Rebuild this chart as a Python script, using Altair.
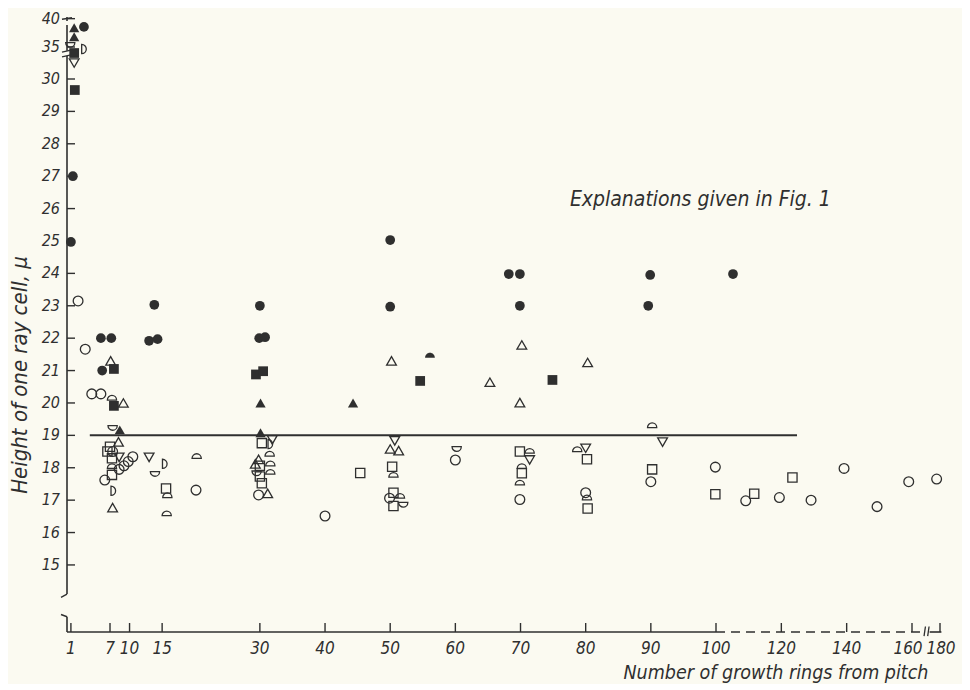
import altair as alt
import pandas as pd

INK = "#2f2f2f"
PAPER = "#fbfaf1"
FONT = "DejaVu Sans Condensed, Liberation Sans Narrow, Roboto Condensed, DejaVu Sans, sans-serif"

# ---------------- data ----------------
# filled circles
fc_x = [3.0, 1.3, 1.0, 5.6, 7.2, 13.0, 14.3, 5.8, 13.8, 30.0, 29.9, 30.8, 50.0, 50.0, 68.2, 69.9, 69.9, 89.9, 89.6, 105.2]
fc_y = [38.55, 27.0, 24.97, 22.0, 22.0, 21.92, 21.97, 21.0, 23.03, 23.0, 22.0, 22.03, 25.03, 22.97, 23.98, 23.98, 23.0, 23.95, 23.0, 23.98]
# open circles
oc_x = [2.1, 3.2, 4.2, 5.6, 7.4, 10.5, 9.8, 9.15, 8.4, 6.2, 20.2, 29.8, 40.0, 49.9, 60.0, 69.9, 80.0, 90.0, 99.9,
        109.1, 119.4, 129.1, 139.2, 149.3, 159.0, 177.6]
oc_y = [23.15, 21.66, 20.28, 20.28, 18.5, 18.34, 18.19, 18.06, 17.95, 17.62, 17.31, 17.16, 16.51, 17.06, 18.24, 17.02, 17.23, 17.57, 18.02,
        16.98, 17.08, 17.0, 17.98, 16.8, 17.57, 17.65]
# filled squares
fs_x = [1.5, 1.6, 7.6, 7.6, 29.4, 30.5, 54.6, 74.9]
fs_y = [34.06, 29.66, 21.05, 19.91, 20.88, 20.98, 20.68, 20.71]
# open squares
os_x = [7.0, 6.6, 7.3, 7.3, 15.6, 30.3, 30.0, 30.0, 30.3, 45.4, 50.3, 50.5, 50.5, 69.9, 70.2, 80.2, 80.3, 90.2, 99.9, 111.7, 123.4]
os_y = [18.65, 18.5, 18.29, 17.78, 17.36, 18.76, 18.06, 17.73, 17.52, 17.84, 18.03, 17.23, 16.82, 18.5, 17.83, 18.26, 16.74, 17.95, 17.18, 17.2, 17.7]
# filled triangles
ft_x = [1.5, 1.5, 8.5, 30.1, 30.1, 44.3]
ft_y = [38.4, 36.8, 19.17, 20.0, 19.08, 20.0]
# open triangles (point up)
ot_x = [7.1, 9.05, 8.3, 7.4, 29.8, 29.3, 31.2, 50.2, 50.0, 51.3, 65.3, 70.2, 69.9, 80.3]
ot_y = [21.3, 20.0, 18.8, 16.77, 18.26, 18.12, 17.21, 21.3, 18.58, 18.53, 20.64, 21.79, 20.01, 21.25]
# open triangles (point down)
od_x = [1.5, 8.4, 13.0, 31.9, 50.7, 71.4, 80.0, 91.8]
od_y = [32.5, 18.32, 18.32, 18.86, 18.83, 18.24, 18.6, 18.79]
# open half circles, flat side down
hu_x = [7.3, 7.3, 15.8, 15.7, 20.3, 31.5, 31.6, 31.6, 50.5, 51.5, 71.4, 70.2, 69.9, 78.7, 80.2, 90.2]
hu_y = [20.14, 18.03, 17.13, 16.57, 18.34, 18.41, 18.11, 17.85, 17.76, 17.11, 18.5, 18.03, 17.52, 18.55, 17.06, 19.29]
# open half circles, flat side up
hd_x = [0.9, 7.4, 13.9, 29.5, 52.0, 60.2]
hd_y = [35.5, 19.25, 17.83, 17.85, 16.88, 18.6]
# open half circles, flat side left
hr_x = [2.9, 7.4, 15.3, 31.5]
hr_y = [34.69, 17.29, 18.12, 18.73]
# filled half circle
fh_x = [56.1]
fh_y = [21.45]

# axis ticks, labels and reference line
y_ticks = [15, 16, 17, 18, 19, 20, 21, 22, 23, 24, 25, 26, 27, 28, 29, 30, 35, 40]
x_ticks = [1, 7, 10, 15, 30, 40, 50, 60, 70, 80, 90, 100, 120, 140, 160, 180]
x_labels_main = [1, 7, 10, 15, 30, 40, 50, 60, 70, 80, 90, 100, 120, 140]
x_label_160 = [160]
x_label_180 = [180]
y_title = "Height of one ray cell, μ"
x_title = "Number of growth rings from pitch"
ref_y = 19
ref_x0, ref_x1 = 3.9, 124.8
note_text = "Explanations given in Fig. 1"
note_x, note_y = 97.6, 26.27

# ---------------- layout ----------------
TOP = 6          # plot top sits at page y = 8 + TOP
H = 618          # x axis line (y = 12.93) sits at the plot bottom
x_scale = alt.Scale(domain=[0.4, 100, 160, 180], range=[0, 649, 845, 873], zero=False, nice=False)
y_scale = alt.Scale(domain=[12.93, 30, 35, 41], range=[H, 65, 33, -1], zero=False, nice=False)

DOME = "M -1 0.35 A 1 1 0 0 1 1 0.35 Z"
CUP = "M -1 -0.35 A 1 1 0 0 0 1 -0.35 Z"
DSH = "M -0.35 -1 A 1 1 0 0 1 -0.35 1 Z"


def X(f):
    return alt.X(f, scale=x_scale, axis=None)


def Y(f):
    return alt.Y(f, scale=y_scale, axis=None)


def pts(xs, ys, shape, filled, size, sw=1.3):
    df = pd.DataFrame({"x": xs, "y": ys})
    return alt.Chart(df).mark_point(
        shape=shape, filled=filled, size=size, color=INK, strokeWidth=sw, opacity=1
    ).encode(x=X("x:Q"), y=Y("y:Q"))


def rule(df, **kw):
    return alt.Chart(df).mark_rule(color=INK, **kw)


def xlabels(vals, dx=0):
    return alt.Chart(pd.DataFrame({"v": vals})).mark_text(
        font=FONT, fontSize=17, fontStyle="italic", color=INK, align="center", baseline="top", dx=dx
    ).encode(x=X("v:Q"), y=alt.value(H + 9), text=alt.Text("v:Q", format="d"))


# ticks pointing into the plot
ytick_layer = rule(pd.DataFrame({"v": y_ticks}), strokeWidth=1.4).encode(
    y=Y("v:Q"), x=alt.value(0), x2=alt.value(8))
xtick_layer = rule(pd.DataFrame({"v": x_ticks}), strokeWidth=1.4).encode(
    x=X("v:Q"), y=alt.value(H), y2=alt.value(H - 9))

# tick labels
ylab_layer = alt.Chart(pd.DataFrame({"v": y_ticks})).mark_text(
    font=FONT, fontSize=16, fontStyle="italic", color=INK, align="right", baseline="middle", dx=-7
).encode(y=Y("v:Q"), x=alt.value(0), text=alt.Text("v:Q", format="d"))

# axis titles
ytitle_layer = alt.Chart(pd.DataFrame({"t": [y_title]})).mark_text(
    font=FONT, fontSize=22, fontStyle="italic", color=INK, angle=270, align="center", baseline="middle"
).encode(x=alt.value(-47), y=alt.value(361), text="t:N")
xtitle_layer = alt.Chart(pd.DataFrame({"t": [x_title]})).mark_text(
    font=FONT, fontSize=19.5, fontStyle="italic", color=INK, align="center", baseline="middle"
).encode(x=alt.value(709), y=alt.value(H + 41), text="t:N")

# y axis line pieces (with breaks)
yseg_layer = rule(pd.DataFrame({"a": [39.6, 34.4, 14.1, 12.93], "b": [40.3, 38.9, 33.6, 13.4]}),
                  strokeWidth=1.6).encode(y=Y("a:Q"), y2="b:Q", x=alt.value(0))
ybrk_layer = rule(pd.DataFrame({"a": [34.2, 33.45, 39.9], "b": [34.55, 33.8, 40.15]}),
                  strokeWidth=1.4).encode(y=Y("a:Q"), y2="b:Q", x=alt.value(-5), x2=alt.value(5))
ybrk2_layer = rule(pd.DataFrame({"a": [14.1, 13.4], "b": [14.0, 13.47]}),
                   strokeWidth=1.4).encode(y=Y("a:Q"), y2="b:Q", x=alt.value(0), x2=alt.value(-6))

# x axis line pieces
y_lo = 12.93
xsolid_layer = rule(pd.DataFrame({"a": [0.4, 172.6], "b": [100, 181], "y": [y_lo, y_lo]}),
                    strokeWidth=1.6).encode(x=X("a:Q"), x2="b:Q", y=Y("y:Q"))
xdash_layer = rule(pd.DataFrame({"a": [100], "b": [168], "y": [y_lo]}),
                   strokeWidth=1.6, strokeDash=[9, 6]).encode(x=X("a:Q"), x2="b:Q", y=Y("y:Q"))
xbrk_layer = rule(pd.DataFrame({"a": [168.6, 171.2], "b": [169.6, 172.2], "y0": [12.8, 12.8], "y1": [13.1, 13.1]}),
                  strokeWidth=1.3).encode(x=X("a:Q"), x2="b:Q", y=Y("y0:Q"), y2="y1:Q")

ref_layer = rule(pd.DataFrame({"a": [ref_x0], "b": [ref_x1], "y": [ref_y]}),
                 strokeWidth=2).encode(x=X("a:Q"), x2="b:Q", y=Y("y:Q"))

note_layer = alt.Chart(pd.DataFrame({"x": [note_x], "y": [note_y], "t": [note_text]})).mark_text(
    font=FONT, fontSize=21, fontStyle="italic", color=INK
).encode(x=X("x:Q"), y=Y("y:Q"), text="t:N")

layers = [
    ytick_layer, xtick_layer, ylab_layer,
    xlabels(x_labels_main), xlabels(x_label_160, dx=-4), xlabels(x_label_180, dx=1),
    ytitle_layer, xtitle_layer,
    yseg_layer, ybrk_layer, ybrk2_layer, xsolid_layer, xdash_layer, xbrk_layer,
    ref_layer, note_layer,
    pts(oc_x, oc_y, "circle", False, 95),
    pts(os_x, os_y, "square", False, 85),
    pts(ot_x, ot_y, "triangle-up", False, 95),
    pts(od_x, od_y, "triangle-down", False, 95),
    pts(hu_x, hu_y, DOME, False, 85),
    pts(hd_x, hd_y, CUP, False, 85),
    pts(hr_x, hr_y, DSH, False, 85),
    pts(fh_x, fh_y, DOME, True, 95),
    pts(fc_x, fc_y, "circle", True, 95),
    pts(fs_x, fs_y, "square", True, 95),
    pts(ft_x, ft_y, "triangle-up", True, 105),
]

chart = alt.layer(*layers).properties(
    width=890, height=H,
    autosize=alt.AutoSizeParams(type="none"),
    padding={"left": 59, "top": TOP, "right": 5, "bottom": 52},
).configure(background=PAPER).configure_view(stroke=None)

chart.save("out.html", embed_options={"renderer": "svg", "actions": False})
